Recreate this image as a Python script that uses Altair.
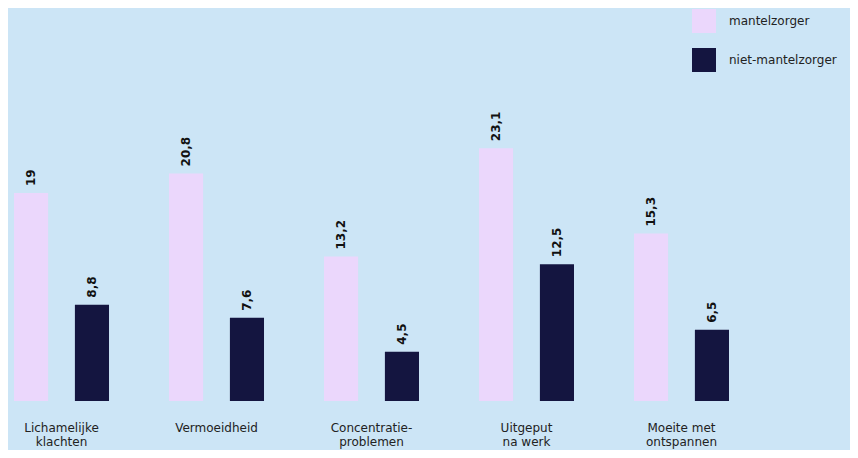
import altair as alt
import pandas as pd

categories = ["Lichamelijke\nklachten", "Vermoeidheid", "Concentratie-\nproblemen",
              "Uitgeput\nna werk", "Moeite met\nontspannen"]
groups = ["mantelzorger", "niet-mantelzorger"]
mantelzorger = [19, 20.8, 13.2, 23.1, 15.3]
niet_mantelzorger = [8.8, 7.6, 4.5, 12.5, 6.5]

rows = []
for c, a, b in zip(categories, mantelzorger, niet_mantelzorger):
    rows.append({"cat": c, "groep": groups[0], "waarde": a})
    rows.append({"cat": c, "groep": groups[1], "waarde": b})
df = pd.DataFrame(rows)

FONT = "DejaVu Sans"

x = alt.X("cat:N", sort=categories, title=None,
          scale=alt.Scale(paddingInner=0.387, paddingOuter=0),
          axis=alt.Axis(labelAngle=0, labelExpr="split(datum.label, '\\n')",
                        domain=False, ticks=False, labelPadding=21,
                        labelFont=FONT, labelFontSize=12, labelColor="#222222",
                        labelLineHeight=14, labelBaseline="top"))
xo = alt.XOffset("groep:N", sort=groups,
                 scale=alt.Scale(paddingInner=0.44, paddingOuter=0))
y = alt.Y("waarde:Q", scale=alt.Scale(domain=[0, 35], nice=False, zero=True), axis=None)
color = alt.Color("groep:N", sort=groups,
                  scale=alt.Scale(domain=groups, range=["#EBD7FC", "#141540"]),
                  legend=alt.Legend(title=None, orient="none", legendX=678, legendY=-9,
                                    symbolType="square", symbolSize=576,
                                    symbolStrokeWidth=0, labelOffset=13,
                                    rowPadding=15, labelFont=FONT, labelFontSize=12,
                                    labelColor="#222222"))

bars = alt.Chart(df).mark_bar().encode(x=x, xOffset=xo, y=y, color=color)

text = alt.Chart(df).transform_calculate(
    lbl="replace(toString(datum.waarde), '.', ',')"
).mark_text(angle=270, align="left", baseline="middle", dx=7,
            font=FONT, fontSize=12, fontWeight="bold", color="#111111").encode(
    x=x, xOffset=xo, y=y, text="lbl:N")

chart = alt.layer(bars, text).properties(
    width=715, height=383,
    background="#CCE5F6",
    autosize=alt.AutoSizeParams(type="none"),
    padding={"left": 6, "top": 10, "right": 121, "bottom": 49},
).configure_view(stroke=None)

chart.save("out.html", embed_options={"renderer": "svg", "actions": False})
